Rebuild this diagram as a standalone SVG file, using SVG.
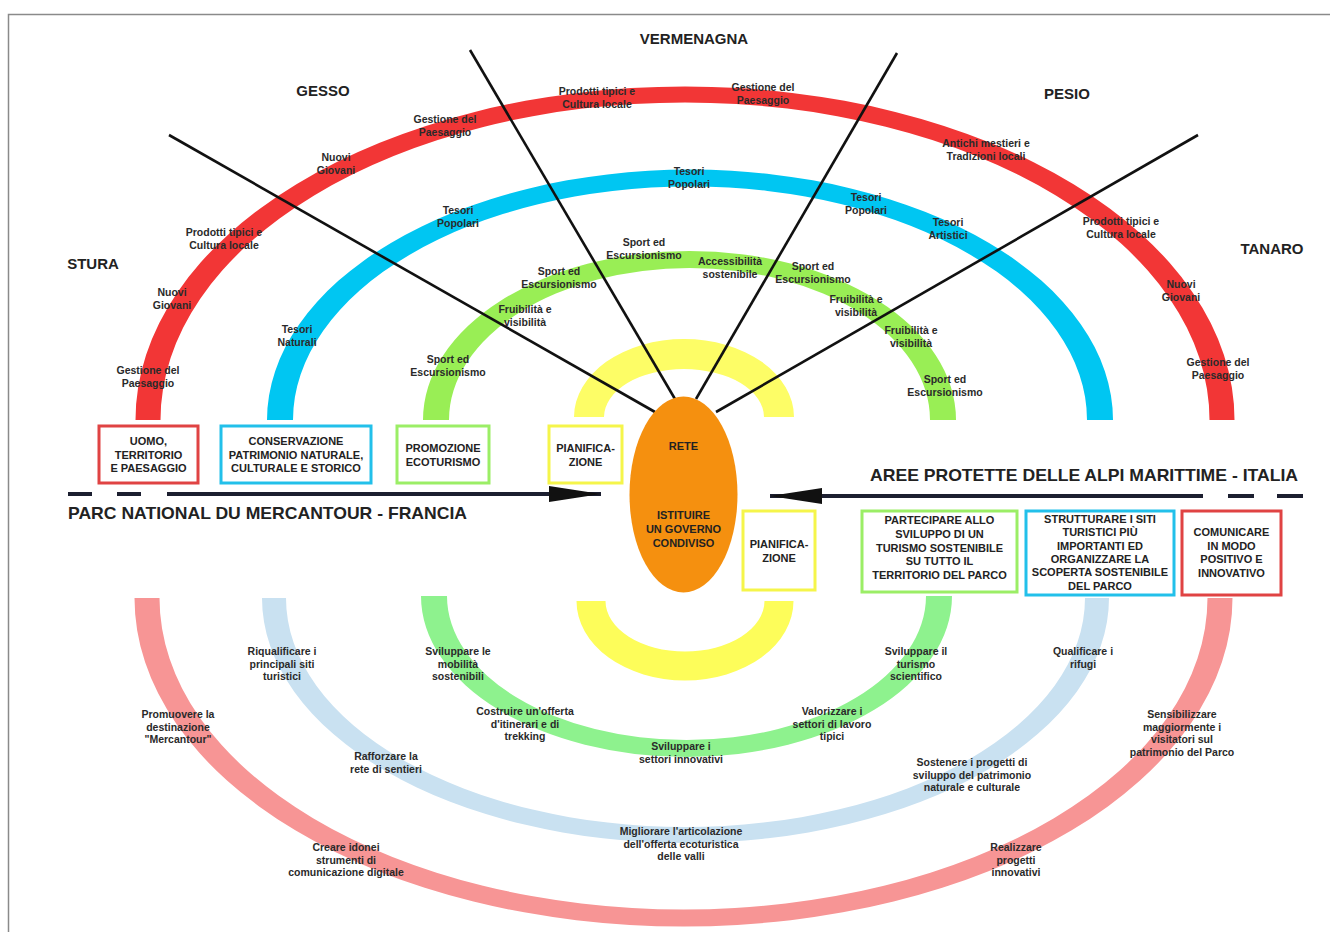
<svg xmlns="http://www.w3.org/2000/svg" width="1330" height="932" viewBox="0 0 1330 932">
<defs>
<style>
.ray{stroke:#111;stroke-width:2.6;fill:none}
.axis{stroke:#1c1f30;stroke-width:4;fill:none}
.bx{fill:#fff;stroke-width:3}
.lbl{font-family:"Liberation Sans",Arial,sans-serif;font-weight:bold;font-size:10.5px;fill:#2a2a2a;text-anchor:middle}
.bt{font-family:"Liberation Sans",Arial,sans-serif;font-weight:bold;font-size:11px;fill:#222;text-anchor:middle}
.val{font-family:"Liberation Sans",Arial,sans-serif;font-weight:bold;font-size:15px;fill:#222;text-anchor:middle}
.park{font-family:"Liberation Sans",Arial,sans-serif;font-weight:bold;font-size:17px;fill:#222}
</style>
<marker id="ah" markerUnits="userSpaceOnUse" markerWidth="52" markerHeight="16" refX="52" refY="8" orient="auto">
<path d="M0,0 L52,8 L0,16 Z" fill="#111"/>
</marker>
</defs>
<rect x="0" y="0" width="1330" height="932" fill="#fff"/>
<rect x="8.5" y="14.5" width="1330" height="930" fill="none" stroke="#8a8a8a" stroke-width="1.5"/>

<g id="arcs">
<path fill="#f23636" d="M135.5,420 A549.5,333.5 0 0 1 1234.5,420 L1209.5,420 A524.5,317.5 0 0 0 160.5,420 Z"/>
<path fill="#00c6f2" d="M267,420 A423,250.5 0 0 1 1113,420 L1087,420 A397,233.5 0 0 0 293,420 Z"/>
<path fill="#99ee55" d="M423,420 A266.5,169 0 0 1 956,420 L930,420 A240.5,152 0 0 0 449,420 Z"/>
<path fill="#fdfd66" d="M574,417 A110,78 0 0 1 794,417 L764,417 A80,48 0 0 0 604,417 Z"/>
<path fill="#f79595" d="M134.5,598 A549,328.5 0 0 0 1232.5,598 L1207.5,598 A524,311.5 0 0 1 159.5,598 Z"/>
<path fill="#c9e1f1" d="M262,598 A423.5,245 0 0 0 1109,598 L1085,598 A399.5,229 0 0 1 286,598 Z"/>
<path fill="#8ef28e" d="M421,596 A265.5,161 0 0 0 952,596 L926,596 A239.5,144 0 0 1 447,596 Z"/>
<path fill="#fdfd5a" d="M576.5,601 A108.5,79.5 0 0 0 793.5,601 L764.5,601 A79.5,50.5 0 0 1 605.5,601 Z"/>
</g>

<g id="connectors">
<line class="ray" x1="169" y1="135" x2="655" y2="412"/>
<line class="ray" x1="470" y1="50" x2="675" y2="399"/>
<line class="ray" x1="897" y1="53" x2="696" y2="399"/>
<line class="ray" x1="1198" y1="135" x2="716" y2="412"/>
<line class="axis" x1="68" y1="494" x2="92" y2="494"/>
<line class="axis" x1="117" y1="494" x2="141" y2="494"/>
<line class="axis" x1="167" y1="494" x2="601" y2="494" marker-end="url(#ah)"/>
<line class="axis" x1="1228" y1="496" x2="1254" y2="496"/>
<line class="axis" x1="1277" y1="496" x2="1303" y2="496"/>
<line class="axis" x1="1203" y1="496" x2="770" y2="496" marker-end="url(#ah)"/>
</g>

<g id="rete">
<ellipse cx="683.5" cy="494.5" rx="54" ry="98" fill="#f5900f"/>
<text class="bt" x="683.5" y="450">RETE</text>
<text class="bt" x="683.5" y="519">ISTITUIRE<tspan x="683.5" dy="14">UN GOVERNO</tspan><tspan x="683.5" dy="14">CONDIVISO</tspan></text>
</g>

<g id="uomo">
<rect class="bx" stroke="#e04343" x="99" y="426" width="99" height="57"/>
<text class="bt" x="148.5" y="445">UOMO,<tspan x="148.5" dy="13.5">TERRITORIO</tspan><tspan x="148.5" dy="13.5">E PAESAGGIO</tspan></text>
</g>
<g id="conservazione">
<rect class="bx" stroke="#22c0ea" x="221" y="426" width="150" height="57"/>
<text class="bt" x="296" y="445">CONSERVAZIONE<tspan x="296" dy="13.5">PATRIMONIO NATURALE,</tspan><tspan x="296" dy="13.5">CULTURALE E STORICO</tspan></text>
</g>
<g id="promozione">
<rect class="bx" stroke="#9bee66" x="397" y="426" width="92" height="57"/>
<text class="bt" x="443" y="452">PROMOZIONE<tspan x="443" dy="14">ECOTURISMO</tspan></text>
</g>
<g id="pianificazione-fr">
<rect class="bx" stroke="#f5f54a" x="549" y="426" width="73" height="57"/>
<text class="bt" x="585.5" y="452">PIANIFICA-<tspan x="585.5" dy="14">ZIONE</tspan></text>
</g>
<g id="pianificazione-it">
<rect class="bx" stroke="#f5f54a" x="743" y="511" width="72" height="79"/>
<text class="bt" x="779" y="548">PIANIFICA-<tspan x="779" dy="14">ZIONE</tspan></text>
</g>
<g id="partecipare">
<rect class="bx" stroke="#9bee66" x="862" y="511" width="155" height="81"/>
<text class="bt" x="939.5" y="524">PARTECIPARE ALLO<tspan x="939.5" dy="13.8">SVILUPPO DI UN</tspan><tspan x="939.5" dy="13.8">TURISMO SOSTENIBILE</tspan><tspan x="939.5" dy="13.8">SU TUTTO IL</tspan><tspan x="939.5" dy="13.8">TERRITORIO DEL PARCO</tspan></text>
</g>
<g id="strutturare">
<rect class="bx" stroke="#22c0ea" x="1026" y="511" width="148" height="84"/>
<text class="bt" x="1100" y="523">STRUTTURARE I SITI<tspan x="1100" dy="13.3">TURISTICI PIÙ</tspan><tspan x="1100" dy="13.3">IMPORTANTI ED</tspan><tspan x="1100" dy="13.3">ORGANIZZARE LA</tspan><tspan x="1100" dy="13.3">SCOPERTA SOSTENIBILE</tspan><tspan x="1100" dy="13.3">DEL PARCO</tspan></text>
</g>
<g id="comunicare">
<rect class="bx" stroke="#e04343" x="1182" y="511" width="99" height="84"/>
<text class="bt" x="1231.5" y="536">COMUNICARE<tspan x="1231.5" dy="13.7">IN MODO</tspan><tspan x="1231.5" dy="13.7">POSITIVO E</tspan><tspan x="1231.5" dy="13.7">INNOVATIVO</tspan></text>
</g>

<g id="titles">
<text class="val" x="694" y="44">VERMENAGNA</text>
<text class="val" x="323" y="96">GESSO</text>
<text class="val" x="1067" y="99">PESIO</text>
<text class="val" x="93" y="269">STURA</text>
<text class="val" x="1272" y="254">TANARO</text>
<text class="park" x="68" y="519" textLength="399" lengthAdjust="spacingAndGlyphs">PARC NATIONAL DU MERCANTOUR - FRANCIA</text>
<text class="park" x="870" y="481" textLength="428" lengthAdjust="spacingAndGlyphs">AREE PROTETTE DELLE ALPI MARITTIME - ITALIA</text>
</g>

<g id="labels-upper">
<text class="lbl" x="597" y="95">Prodotti tipici e<tspan x="597" dy="12.5">Cultura locale</tspan></text>
<text class="lbl" x="763" y="91">Gestione del<tspan x="763" dy="12.5">Paesaggio</tspan></text>
<text class="lbl" x="445" y="123">Gestione del<tspan x="445" dy="12.5">Paesaggio</tspan></text>
<text class="lbl" x="336" y="161">Nuovi<tspan x="336" dy="12.5">Giovani</tspan></text>
<text class="lbl" x="224" y="236">Prodotti tipici e<tspan x="224" dy="12.5">Cultura locale</tspan></text>
<text class="lbl" x="172" y="296">Nuovi<tspan x="172" dy="12.5">Giovani</tspan></text>
<text class="lbl" x="148" y="374">Gestione del<tspan x="148" dy="12.5">Paesaggio</tspan></text>
<text class="lbl" x="986" y="147">Antichi mestieri e<tspan x="986" dy="12.5">Tradizioni locali</tspan></text>
<text class="lbl" x="1121" y="225">Prodotti tipici e<tspan x="1121" dy="12.5">Cultura locale</tspan></text>
<text class="lbl" x="1181" y="288">Nuovi<tspan x="1181" dy="12.5">Giovani</tspan></text>
<text class="lbl" x="1218" y="366">Gestione del<tspan x="1218" dy="12.5">Paesaggio</tspan></text>
<text class="lbl" x="689" y="175">Tesori<tspan x="689" dy="12.5">Popolari</tspan></text>
<text class="lbl" x="458" y="214">Tesori<tspan x="458" dy="12.5">Popolari</tspan></text>
<text class="lbl" x="297" y="333">Tesori<tspan x="297" dy="12.5">Naturali</tspan></text>
<text class="lbl" x="866" y="201">Tesori<tspan x="866" dy="12.5">Popolari</tspan></text>
<text class="lbl" x="948" y="226">Tesori<tspan x="948" dy="12.5">Artistici</tspan></text>
<text class="lbl" x="644" y="246">Sport ed<tspan x="644" dy="12.5">Escursionismo</tspan></text>
<text class="lbl" x="730" y="265">Accessibilità<tspan x="730" dy="12.5">sostenibile</tspan></text>
<text class="lbl" x="813" y="270">Sport ed<tspan x="813" dy="12.5">Escursionismo</tspan></text>
<text class="lbl" x="559" y="275">Sport ed<tspan x="559" dy="12.5">Escursionismo</tspan></text>
<text class="lbl" x="525" y="313">Fruibilità e<tspan x="525" dy="12.5">visibilità</tspan></text>
<text class="lbl" x="856" y="303">Fruibilità e<tspan x="856" dy="12.5">visibilità</tspan></text>
<text class="lbl" x="911" y="334">Fruibilità e<tspan x="911" dy="12.5">visibilità</tspan></text>
<text class="lbl" x="448" y="363">Sport ed<tspan x="448" dy="12.5">Escursionismo</tspan></text>
<text class="lbl" x="945" y="383">Sport ed<tspan x="945" dy="12.5">Escursionismo</tspan></text>
</g>

<g id="labels-lower">
<text class="lbl" x="282" y="655">Riqualificare i<tspan x="282" dy="12.5">principali siti</tspan><tspan x="282" dy="12.5">turistici</tspan></text>
<text class="lbl" x="458" y="655">Sviluppare le<tspan x="458" dy="12.5">mobilità</tspan><tspan x="458" dy="12.5">sostenibili</tspan></text>
<text class="lbl" x="178" y="718">Promuovere la<tspan x="178" dy="12.5">destinazione</tspan><tspan x="178" dy="12.5">"Mercantour"</tspan></text>
<text class="lbl" x="525" y="715">Costruire un'offerta<tspan x="525" dy="12.5">d'itinerari e di</tspan><tspan x="525" dy="12.5">trekking</tspan></text>
<text class="lbl" x="386" y="760">Rafforzare la<tspan x="386" dy="12.5">rete di sentieri</tspan></text>
<text class="lbl" x="681" y="750">Sviluppare i<tspan x="681" dy="12.5">settori innovativi</tspan></text>
<text class="lbl" x="681" y="835">Migliorare l'articolazione<tspan x="681" dy="12.5">dell'offerta ecoturistica</tspan><tspan x="681" dy="12.5">delle valli</tspan></text>
<text class="lbl" x="346" y="851">Creare idonei<tspan x="346" dy="12.5">strumenti di</tspan><tspan x="346" dy="12.5">comunicazione digitale</tspan></text>
<text class="lbl" x="916" y="655">Sviluppare il<tspan x="916" dy="12.5">turismo</tspan><tspan x="916" dy="12.5">scientifico</tspan></text>
<text class="lbl" x="1083" y="655">Qualificare i<tspan x="1083" dy="12.5">rifugi</tspan></text>
<text class="lbl" x="832" y="715">Valorizzare i<tspan x="832" dy="12.5">settori di lavoro</tspan><tspan x="832" dy="12.5">tipici</tspan></text>
<text class="lbl" x="1182" y="718">Sensibilizzare<tspan x="1182" dy="12.5">maggiormente i</tspan><tspan x="1182" dy="12.5">visitatori sul</tspan><tspan x="1182" dy="12.5">patrimonio del Parco</tspan></text>
<text class="lbl" x="972" y="766">Sostenere i progetti di<tspan x="972" dy="12.5">sviluppo del patrimonio</tspan><tspan x="972" dy="12.5">naturale e culturale</tspan></text>
<text class="lbl" x="1016" y="851">Realizzare<tspan x="1016" dy="12.5">progetti</tspan><tspan x="1016" dy="12.5">innovativi</tspan></text>
</g>
</svg>
